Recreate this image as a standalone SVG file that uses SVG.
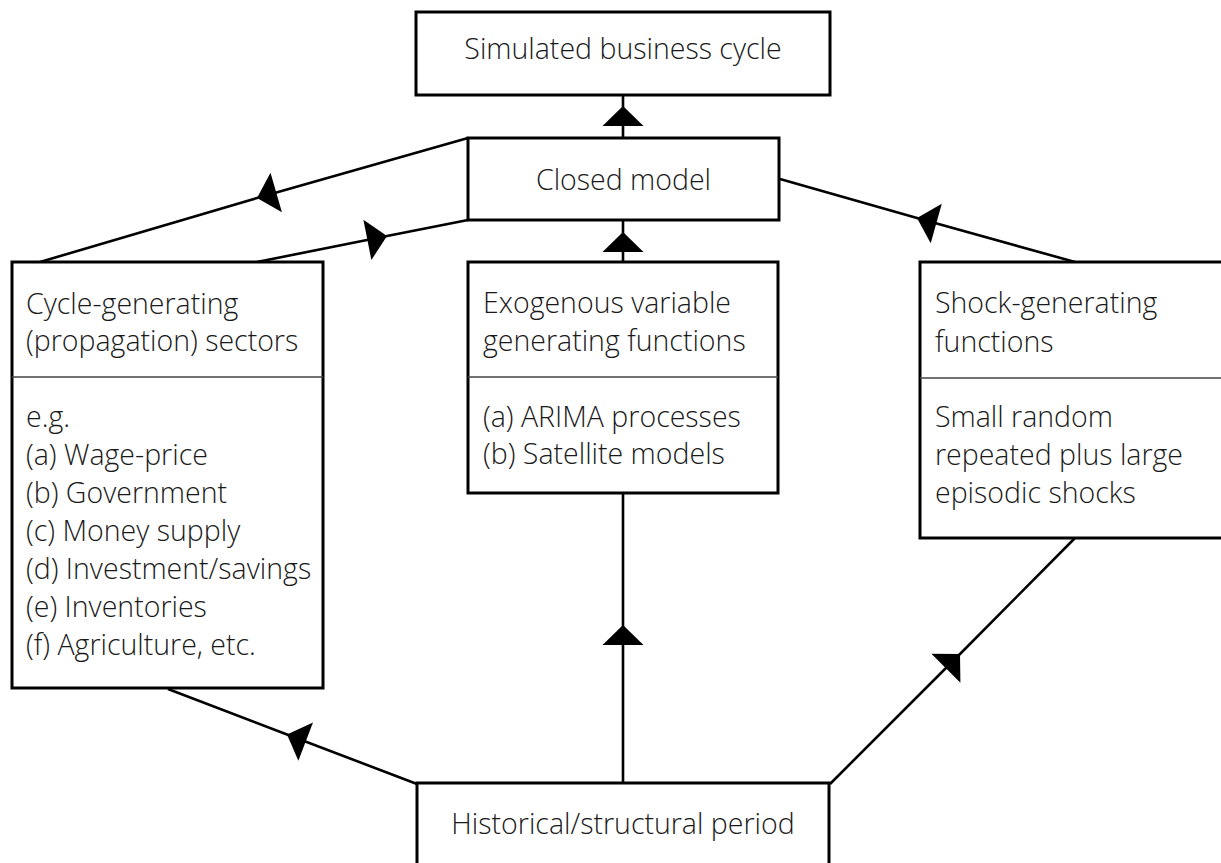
<svg xmlns="http://www.w3.org/2000/svg" width="1221" height="863" viewBox="0 0 1221 863">
<style>
  .box { fill: #fff; stroke: #000; stroke-width: 3; }
  .div { stroke: #444; stroke-width: 1.5; fill: none; }
  .edge { fill: none; stroke: #000; stroke-width: 2.6; marker-mid: url(#tri); }
  text { font-family: "Open Sans", "Liberation Sans", sans-serif; font-weight: 300; font-size: 28.5px; fill: #1a1a1a; }
  .c { text-anchor: middle; }
</style>
<defs>
  <marker id="tri" markerUnits="userSpaceOnUse" markerWidth="44" markerHeight="44" viewBox="-22 -22 44 44" refX="0" refY="0" orient="auto">
    <path d="M0,0 L-20,-20.5 L-20,20.5 Z" fill="#000"/>
  </marker>
</defs>
<rect width="1221" height="863" fill="#fff"/>

<g id="connectors">
  <polyline class="edge" points="623,138 623,106 623,95"/>
  <polyline class="edge" points="623,262 623,232 623,220"/>
  <polyline class="edge" points="468,138 257,198 40,262"/>
  <polyline class="edge" points="257,262 387,236 468,220"/>
  <polyline class="edge" points="1075,262 917,218 780,179"/>
  <polyline class="edge" points="830,784 960,654 1075,538"/>
  <polyline class="edge" points="623,783 623,625 623,493"/>
  <polyline class="edge" points="417,784 287,734.5 168,689"/>
</g>

<g id="simulated">
  <rect class="box" x="416" y="12" width="414" height="83"/>
  <text class="c" x="623" y="59">Simulated business cycle</text>
</g>

<g id="closed">
  <rect class="box" x="468" y="138" width="311" height="82"/>
  <text class="c" x="623.5" y="190">Closed model</text>
</g>

<g id="cycle">
  <rect class="box" x="12" y="262" width="311" height="426"/>
  <line class="div" x1="12" y1="377" x2="323" y2="377"/>
  <text x="26" y="314">Cycle-generating</text>
  <text x="26" y="351">(propagation) sectors</text>
  <text x="26" y="427">e.g.</text>
  <text x="26" y="465">(a) Wage-price</text>
  <text x="26" y="503">(b) Government</text>
  <text x="26" y="541">(c) Money supply</text>
  <text x="26" y="579">(d) Investment/savings</text>
  <text x="26" y="617">(e) Inventories</text>
  <text x="26" y="655">(f) Agriculture, etc.</text>
</g>

<g id="exogenous">
  <rect class="box" x="468" y="262" width="310" height="231"/>
  <line class="div" x1="468" y1="377" x2="778" y2="377"/>
  <text x="483" y="313">Exogenous variable</text>
  <text x="483" y="351">generating functions</text>
  <text x="483" y="427">(a) ARIMA processes</text>
  <text x="483" y="464">(b) Satellite models</text>
</g>

<g id="shock">
  <rect class="box" x="920" y="262" width="320" height="276"/>
  <line class="div" x1="920" y1="378" x2="1240" y2="378"/>
  <text x="935" y="313">Shock-generating</text>
  <text x="935" y="352">functions</text>
  <text x="935" y="427">Small random</text>
  <text x="935" y="465">repeated plus large</text>
  <text x="935" y="503">episodic shocks</text>
</g>

<g id="historical">
  <rect class="box" x="417" y="783" width="412" height="100"/>
  <text class="c" x="623" y="834">Historical/structural period</text>
</g>
</svg>
